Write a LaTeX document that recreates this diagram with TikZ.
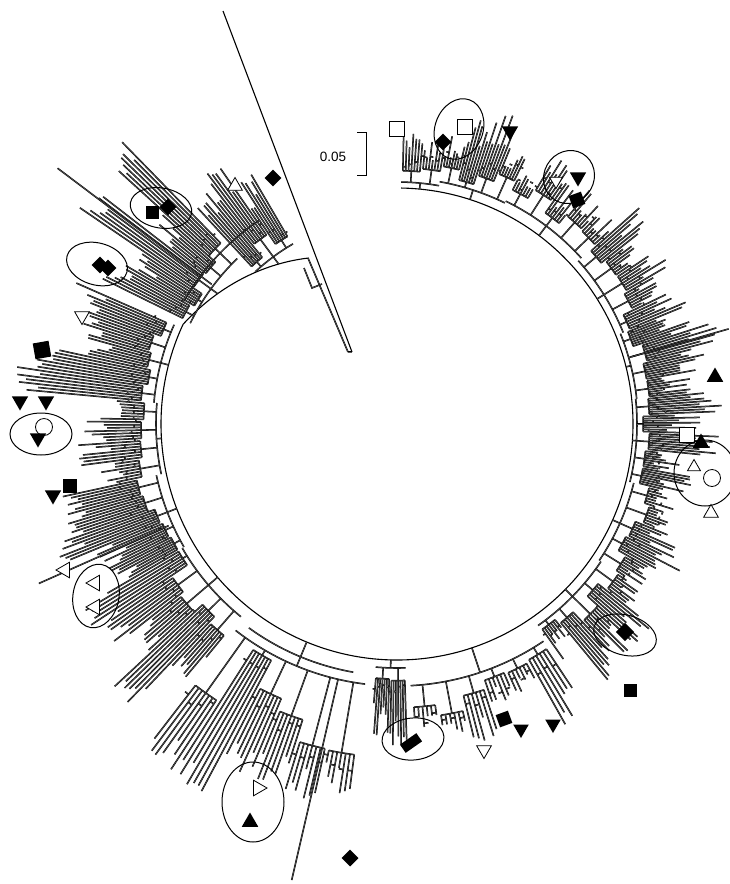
\documentclass[tikz,border=0pt]{standalone}
\usepackage{fontspec}
\setmainfont{Liberation Sans}
\usetikzlibrary{shapes.geometric}
\begin{document}
\begin{tikzpicture}[x=1pt,y=1pt,
  br/.style={line width=0.5pt, draw=black, double=black!65, double distance=0.55pt, line cap=butt},
  bb/.style={line width=1.1pt, draw=black},
  mk/.style={inner sep=0pt, outer sep=0pt},
  ftd/.style={mk, regular polygon, regular polygon sides=3, shape border rotate=180, fill=black, minimum size=19pt},
  ftu/.style={mk, regular polygon, regular polygon sides=3, fill=black, minimum size=19pt},
  otd/.style={mk, regular polygon, regular polygon sides=3, shape border rotate=180, draw=black, fill=white, line width=0.8pt, minimum size=17pt},
  otu/.style={mk, regular polygon, regular polygon sides=3, draw=black, fill=white, line width=0.8pt, minimum size=17pt},
  otl/.style={mk, regular polygon, regular polygon sides=3, shape border rotate=90, draw=black, fill=white, line width=0.8pt, minimum size=18pt},
  otr/.style={mk, regular polygon, regular polygon sides=3, shape border rotate=-90, draw=black, fill=white, line width=0.8pt, minimum size=18pt},
  fsq/.style={mk, rectangle, fill=black, minimum size=13pt},
  osq/.style={mk, rectangle, draw=black, fill=white, line width=0.8pt, minimum size=15pt},
  fdi/.style={mk, rectangle, fill=black, minimum size=12pt, rotate=45},
  oci/.style={mk, circle, draw=black, fill=white, line width=0.8pt, minimum size=17pt},
  grp/.style={ellipse, draw=black, line width=1pt, inner sep=0pt}
]
\useasboundingbox (0,0) rectangle (730,-884);
\fill[white] (0,0) rectangle (730,-884);

% ---------- tree ----------
\pgfmathsetseed{4242}
\begin{scope}[shift={(397,-424)}]
  \draw[bb] (89:236) arc[start angle=89, end angle=-205, radius=236];
  \draw[bb] plot[domain=-205:-242, samples=40] (\x:{236-48*(-205-\x)/37});
  \draw[br] (150:246) arc[start angle=150, end angle=124, radius=246];
  \draw[br] (-100:252) arc[start angle=-100, end angle=-126, radius=252];
  \foreach \a/\b/\rin/\rc/\g/\k/\sp/\tmin/\tmax in {
     89/80/236/242/2/7/25/270/320,
     80/64/236/246/4/7/20/290/335,
     64/42/236/248/5/7/20/285/320,
     42/22/236/244/5/7/20/285/330,
     22/6/236/241/4/8/18/280/340,
     6/-14/236/240/5/8/18/285/335,
     -14/-34/236/244/5/7/20/280/330,
     -34/-55/236/246/5/7/22/285/345,
     -56/-87/236/262/6/6/30/300/355,
     -88/-95/236/244/2/7/10/300/325,
     -97/-128/236/262/6/7/70/365/460,
     -129/-150/236/248/5/7/25/330/390,
     -150/-168/236/246/5/7/22/325/390,
     -168/-185/236/241/4/7/18/290/350,
     -185/-204/236/244/5/7/20/305/390,
     -206/-226/222/230/5/7/22/300/420,
     -227/-240/199/208/3/7/20/265/325}{
    \pgfmathsetmacro\md{(\a+\b)/2}
    \draw[br] (\md:\rin) -- (\md:\rc);
    \draw[br] (\a:\rc) arc[start angle=\a, end angle=\b, radius=\rc];
    \pgfmathsetmacro\w{(\b-\a)/\g}
    \foreach \j in {1,...,\g}{
      \pgfmathsetmacro\ga{\a+(\j-1)*\w}
      \pgfmathsetmacro\gm{\ga+0.5*\w}
      \pgfmathsetmacro\rs{\rc+4+rnd*\sp}
      \pgfmathsetmacro\tg{\tmin+rnd*(\tmax-\tmin)}
      \pgfmathsetmacro\la{\ga+0.5*\w/\k}
      \pgfmathsetmacro\lb{\ga+\w-0.5*\w/\k}
      \pgfmathsetmacro\dl{\w/\k}
      \draw[br] (\gm:\rc) -- (\gm:\rs);
      \draw[br] (\la:\rs) arc[start angle=\la, end angle=\lb, radius=\rs];
      \foreach \i in {1,...,\k}{
        \pgfmathsetmacro\ang{\ga+(\i-0.5)*\dl}
        \pgfmathsetmacro\tip{max(\rs+10,\tg-rnd*35)}
        \pgfmathsetmacro\rq{\rs+4+rnd*14}
        \draw[br] (\ang:\rs) -- (\ang:\tip);
        \ifodd\i
          \draw[br] (\ang:\rq) arc[start angle=\ang, delta angle=\dl, radius=\rq];
        \fi
      }
    }
  }
  % a few long single branches
  \draw[br] (-103:262) -- (-103:468);
  \draw[br] (-217:232) -- (-217:425);
  \draw[br] (16:244) -- (16:345);
  \draw[br] (-156:250) -- (-156:392);
\end{scope}

% ---------- root stem ----------
\draw[bb] (223,-11) -- (352,-352);
\draw[br] (348,-352) -- (308,-258);
\draw[br] (348,-352) -- (352,-352);
\draw[br] (304,-268) -- (312,-288) -- (322,-284);

% ---------- scale bar ----------
\draw[line width=0.9pt] (357,-132) -- (366,-132) -- (366,-175) -- (357,-175);
\node[font=\fontsize{13.5}{15}\selectfont, anchor=center] (scale) at (333,-157) {0.05};

% ---------- markers ----------
% top right
\node[osq] (m1) at (397,-129) {};
\node[fdi] (m2) at (443,-142) {};
\node[osq] (m3) at (465,-127) {};
\node[ftd] (m4) at (510,-131) {};
\node[grp, minimum width=48pt, minimum height=62pt, rotate=-20] (e1) at (459,-129) {};
\node[otd, minimum size=15pt] (m5) at (556,-181) {};
\node[ftd] (m6) at (578,-177) {};
\node[fsq, rotate=20] (m7) at (577,-200) {};
\node[grp, minimum width=50pt, minimum height=54pt, rotate=-30] (e2) at (569,-177) {};
% top left
\node[otu] (m8) at (235,-186) {};
\node[fdi] (m9) at (273,-178) {};
\node[fsq] (m10) at (152,-212) {};
\node[fdi] (m11) at (168,-207) {};
\node[grp, minimum width=62pt, minimum height=40pt, rotate=-10] (e3) at (161,-208) {};
\node[fdi] (m12) at (100,-265) {};
\node[fdi] (m13) at (108,-268) {};
\node[grp, minimum width=62pt, minimum height=42pt, rotate=-15] (e4) at (97,-264) {};
\node[otd] (m14) at (82,-316) {};
\node[fsq, minimum size=16pt, rotate=10] (m15) at (42,-350) {};
% left
\node[ftd] (m16) at (20,-401) {};
\node[ftd] (m17) at (46,-401) {};
\node[oci] (m18) at (44,-427) {};
\node[ftd] (m19) at (38,-438) {};
\node[grp, minimum width=62pt, minimum height=42pt] (e5) at (41,-434) {};
\node[ftd] (m20) at (53,-495) {};
\node[fsq, minimum size=14pt] (m21) at (70,-486) {};
\node[otl] (m22) at (65,-570) {};
\node[otl] (m23) at (95,-583) {};
\node[otl] (m24) at (95,-607) {};
\node[grp, minimum width=46pt, minimum height=64pt, rotate=-10] (e6) at (96,-596) {};
% right
\node[ftu] (m25) at (715,-377) {};
\node[osq] (m26) at (687,-435) {};
\node[ftu] (m27) at (701,-443) {};
\node[otu, minimum size=15pt] (m28) at (694,-467) {};
\node[oci, minimum size=17pt] (m29) at (712,-478) {};
\node[grp, minimum width=62pt, minimum height=66pt] (e7) at (705,-473) {};
\node[otu] (m30) at (711,-513) {};
\node[fdi, minimum size=13pt] (m31) at (625,-632) {};
\node[grp, minimum width=64pt, minimum height=40pt, rotate=-15] (e8) at (625,-635) {};
\node[fsq] (m32) at (630,-690) {};
% bottom
\node[fsq, rotate=20] (m33) at (504,-719) {};
\node[ftd, minimum size=18pt] (m34) at (521,-729) {};
\node[ftd, minimum size=18pt] (m35) at (553,-724) {};
\node[otd] (m36) at (484,-750) {};
\node[mk, rectangle, fill=black, minimum width=20pt, minimum height=10pt, rotate=35] (m37) at (411,-743) {};
\node[grp, minimum width=62pt, minimum height=42pt, rotate=5] (e9) at (413,-739) {};
% bottom left
\node[otr] (m38) at (258,-788) {};
\node[ftu] (m39) at (250,-822) {};
\node[grp, minimum width=62pt, minimum height=80pt] (e10) at (253,-802) {};
\node[fdi] (m40) at (350,-858) {};
\end{tikzpicture}
\end{document}
